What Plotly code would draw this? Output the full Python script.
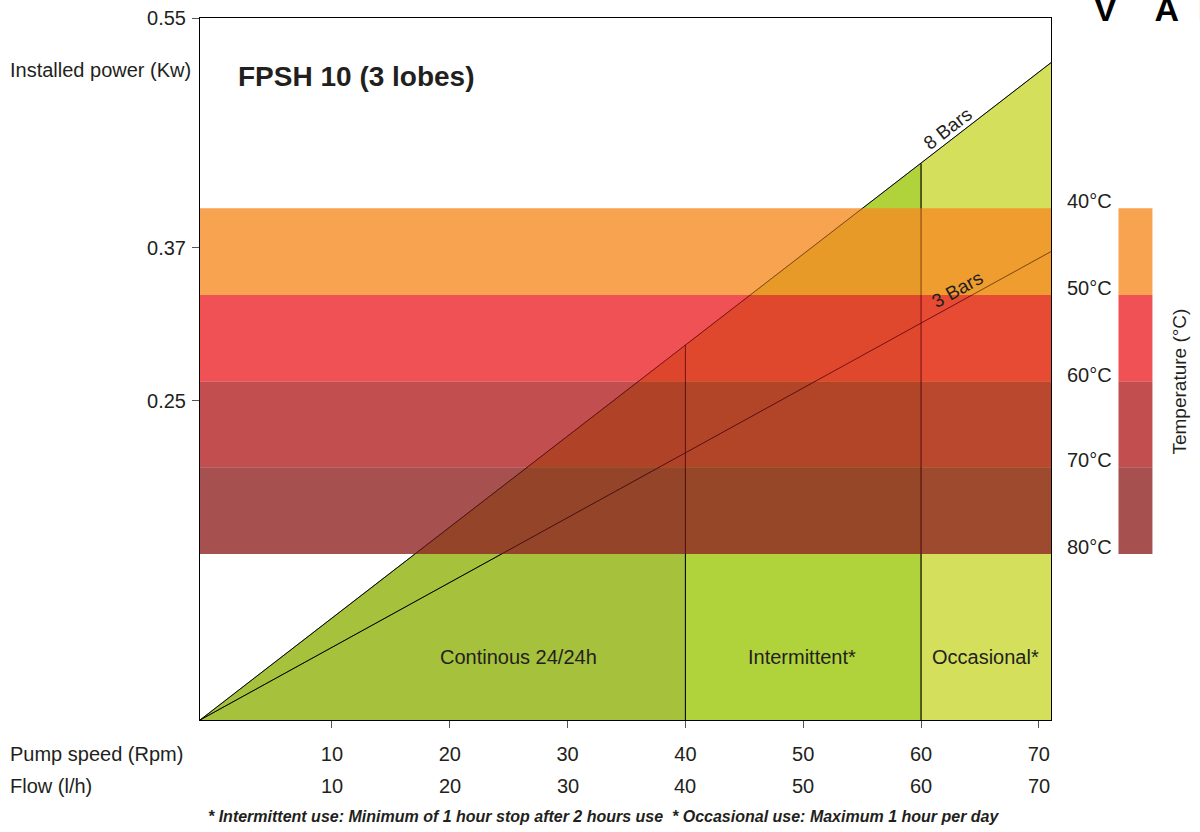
import plotly.graph_objects as go

# ---------------- data ----------------
speed_ticks = [10, 20, 30, 40, 50, 60, 70]
flow_ticks = [10, 20, 30, 40, 50, 60, 70]
power_ticks = [0.25, 0.37, 0.55]
power_ticktext = ["0.25", "0.37", "0.55"]

# break points of the duty zones (pump speed) and installed power of the pressure lines
line_speed = [-1.2, 40, 60, 71.03]
bar8_power = [0, 0.294, 0.436, 0.515]
bar3_power = [0, 0.209, 0.311, 0.367]

zone_names = ["Continous 24/24h", "Intermittent*", "Occasional*"]
zone_label_x = [25.85, 49.9, 65.5]
zone_label_y = 0.049

temp_labels = ["40°C", "50°C", "60°C", "70°C", "80°C"]
temp_bounds = [0.401, 0.333, 0.265, 0.198, 0.130]

# ---------------- styles ----------------
FONT = "Liberation Sans, Arial, sans-serif"
TXT = "#231f20"
FS = 20
zone_colors = ["#a6c13b", "#b0d23a", "#d4e05c"]
band_colors = ["rgba(245,140,36,0.8)", "rgba(235,38,43,0.8)",
               "rgba(179,34,36,0.8)", "rgba(144,36,36,0.8)"]

fig = go.Figure()

# green duty zones under the 8 bar line
for i in range(3):
    x0, x1 = line_speed[i], line_speed[i + 1]
    fig.add_trace(go.Scatter(
        x=[x0, x1, x1, x0, x0],
        y=[0, 0, bar8_power[i + 1], bar8_power[i], 0],
        fill="toself", fillcolor=zone_colors[i], mode="lines",
        line=dict(width=0), hoverinfo="skip", showlegend=False))

# pressure lines and zone separators (definition used twice: under and over the bands)
line_defs = [
    ([line_speed[0], line_speed[-1]], [bar8_power[0], bar8_power[-1]]),
    ([line_speed[0], line_speed[-1]], [bar3_power[0], bar3_power[-1]]),
    ([line_speed[1], line_speed[1]], [0, bar8_power[1]]),
    ([line_speed[2], line_speed[2]], [0, bar8_power[2]]),
]
for xs, ys in line_defs:
    fig.add_trace(go.Scatter(x=xs, y=ys, mode="lines", hoverinfo="skip",
                             line=dict(color="black", width=1), showlegend=False))

# temperature bands and their legend bar
for i in range(4):
    fig.add_shape(type="rect", xref="x domain", yref="y", x0=0, x1=1,
                  y0=temp_bounds[i + 1], y1=temp_bounds[i],
                  fillcolor=band_colors[i], line=dict(width=0), layer="above")
    fig.add_shape(type="rect", xref="paper", yref="y", x0=1.0793, x1=1.1192,
                  y0=temp_bounds[i + 1], y1=temp_bounds[i],
                  fillcolor=band_colors[i], line=dict(width=0), layer="above")

# darken the lines where they run through the tinted bands
for xs, ys in line_defs:
    fig.add_shape(type="line", xref="x", yref="y", x0=xs[0], x1=xs[1], y0=ys[0], y1=ys[1],
                  line=dict(color="rgba(0,0,0,0.35)", width=1), layer="above")

ann = []
for t, v in zip(temp_labels, temp_bounds):
    ann.append(dict(x=1.0735, xref="paper", y=v, yref="y", yshift=7, text=t,
                    xanchor="right", yanchor="middle", showarrow=False,
                    font=dict(family=FONT, size=FS, color=TXT)))
ann.append(dict(x=1.1509, xref="paper", y=(temp_bounds[0] + temp_bounds[-1]) / 2, yref="y",
                text="Temperature (°C)", textangle=-90, showarrow=False,
                xanchor="center", yanchor="middle", font=dict(family=FONT, size=FS - 1, color=TXT)))

for name, xv in zip(zone_names, zone_label_x):
    ann.append(dict(x=xv, y=zone_label_y, xref="x", yref="y", text=name, showarrow=False,
                    font=dict(family=FONT, size=FS, color=TXT)))

ann.append(dict(x=62.25, y=0.4638, xref="x", yref="y", text="8 Bars", textangle=-37.7,
                showarrow=False, font=dict(family=FONT, size=19, color=TXT)))
ann.append(dict(x=63.1, y=0.337, xref="x", yref="y", text="3 Bars", textangle=-29,
                showarrow=False, font=dict(family=FONT, size=19, color=TXT)))

ann.append(dict(x=0.042, y=0.916, xref="paper", yref="paper", text="<b>FPSH 10 (3 lobes)</b>",
                xanchor="left", yanchor="middle", showarrow=False,
                font=dict(family=FONT, size=28, color=TXT)))

ann.append(dict(x=-0.2255, y=0.926, xref="paper", yref="paper", text="Installed power (Kw)",
                xanchor="left", yanchor="middle", showarrow=False,
                font=dict(family=FONT, size=FS, color=TXT)))
ann.append(dict(x=-0.2255, y=-0.0484, xref="paper", yref="paper", text="Pump speed (Rpm)",
                xanchor="left", yanchor="middle", showarrow=False,
                font=dict(family=FONT, size=FS, color=TXT)))
ann.append(dict(x=-0.2255, y=-0.094, xref="paper", yref="paper", text="Flow (l/h)",
                xanchor="left", yanchor="middle", showarrow=False,
                font=dict(family=FONT, size=FS, color=TXT)))
for f in flow_ticks:
    ann.append(dict(x=f, y=-0.094, xref="x", yref="paper", text=str(f),
                    xanchor="center", yanchor="middle", showarrow=False,
                    font=dict(family=FONT, size=FS, color=TXT)))

ann.append(dict(x=0.4745, y=-0.138, xref="paper", yref="paper",
                text="<b><i>* Intermittent use: Minimum of 1 hour stop after 2 hours use  "
                     "* Occasional use: Maximum 1 hour per day</i></b>",
                xanchor="center", yanchor="middle", showarrow=False,
                font=dict(family=FONT, size=16, color=TXT)))

ann.append(dict(x=1.0487, y=1.0128, xref="paper", yref="paper",
                text="<b>V\u00a0\u00a0\u00a0\u00a0A\u00a0\u00a0R</b>",
                xanchor="left", yanchor="middle", showarrow=False,
                font=dict(family=FONT, size=34, color="black")))

fig.update_layout(
    width=1200, height=832, autosize=False,
    margin=dict(l=200, r=149, t=18, b=112, pad=0),
    plot_bgcolor="white", paper_bgcolor="white",
    showlegend=False, annotations=ann, hovermode=False,
    xaxis=dict(range=[line_speed[0], line_speed[-1]], tickvals=speed_ticks,
               ticks="outside", ticklen=7, tickcolor="#555", showline=True,
               linecolor="black", linewidth=1, mirror=True, showgrid=False,
               zeroline=False, ticklabelstandoff=9, automargin=False,
               tickfont=dict(family=FONT, size=FS, color=TXT)),
    yaxis=dict(range=[0, 0.55], tickvals=power_ticks, ticktext=power_ticktext,
               ticks="outside", ticklen=7, tickcolor="#555", showline=True,
               linecolor="black", linewidth=1, mirror=True, showgrid=False,
               zeroline=False, ticklabelstandoff=2, automargin=False,
               tickfont=dict(family=FONT, size=FS, color=TXT)),
)

fig.write_html("out.html", config={"displayModeBar": False},
               post_script="document.body.style.margin='0px';document.body.style.overflow='hidden';")
